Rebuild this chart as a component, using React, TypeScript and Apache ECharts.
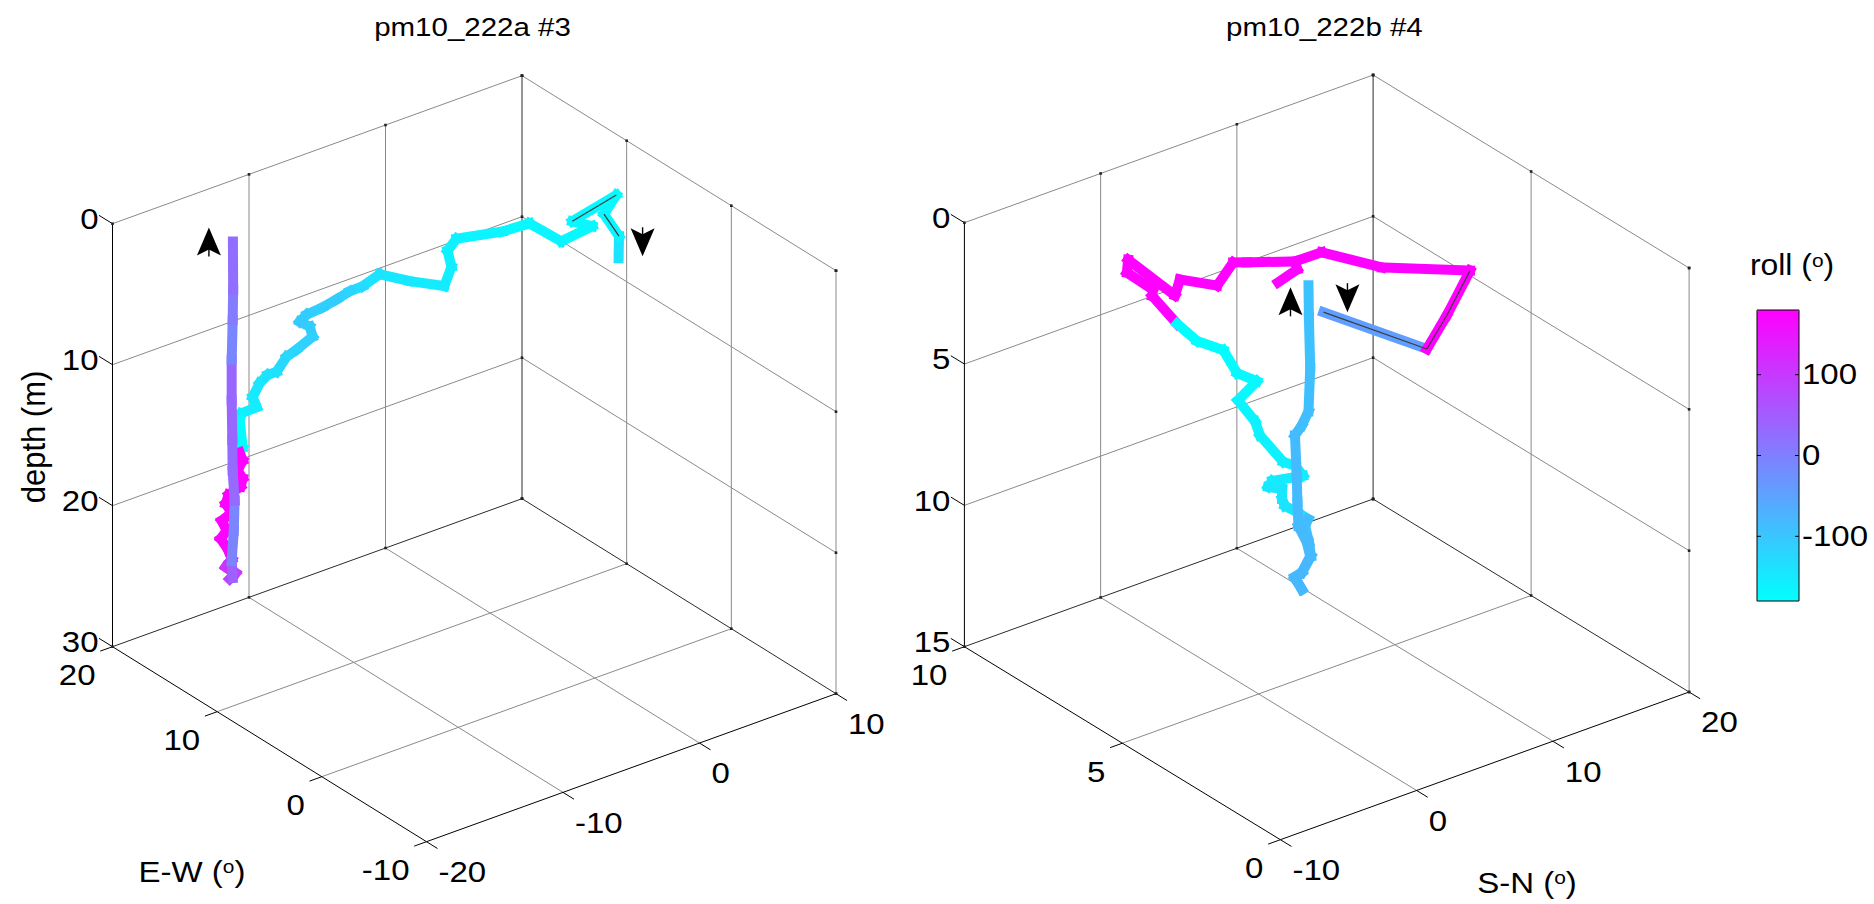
import { useEffect, useRef } from "react";
import * as echarts from "echarts";

// One sample of a float track: [E-W (º), S-N (º), depth (m), roll (º)]
type Sample = [number, number, number, number];

// ---- Profile pm10_222a #3 ----
const descent3: Sample[] = [
  [0.22, 1.91, 1.0, -140],
  [3.04, 4.1, 1.5, -165],
  [6.4, 5.58, 2.0, -168],
  [8.51, 8.1, 2.5, -170],
  [8.19, 4.63, 3.0, -168],
  [7.42, 5.5, 3.3, -170],
  [7.72, 3.46, 3.8, -165],
  [11.14, 3.75, 4.2, -168],
  [11.84, 2.31, 4.6, -165],
  [13.31, 0.07, 5.0, -162],
  [12.86, -0.93, 5.3, -160],
  [11.57, -1.63, 5.6, -156],
  [10.51, -2.97, 6.0, -152],
  [12.76, -3.79, 6.4, -148],
  [15.03, -4.24, 6.8, -140],
  [14.86, -5.61, 7.1, -130],
  [15.24, -6.28, 7.4, -118],
  [15.32, -7.16, 7.7, -110],
  [15.44, -8.1, 8.0, -114],
  [15.72, -9.05, 8.3, -110],
  [15.69, -9.59, 8.6, -105],
  [15.27, -9.18, 8.9, -108],
  [14.6, -9.48, 9.2, -115],
  [14.44, -10.78, 9.6, -120],
  [14.65, -11.35, 10.0, -125],
  [14.22, -12.41, 10.5, -135],
  [14.79, -12.63, 10.9, -140],
  [14.83, -13.18, 11.3, -145],
  [14.39, -14.03, 11.8, -150],
  [13.96, -14.07, 12.3, -155],
  [14.58, -14.69, 12.8, -160],
  [14.66, -14.78, 13.3, -175],
  [14.65, -14.57, 15.3, -178],
  [15.09, -14.45, 15.9, 178],
  [14.89, -14.38, 16.4, 178],
  [15.05, -14.63, 17.1, 175],
  [14.92, -14.36, 17.7, 178],
  [15.03, -14.42, 18.3, 176],
  [15.62, -14.84, 19.0, 178],
  [15.81, -14.92, 19.7, 175],
  [15.54, -14.69, 20.3, 178],
  [15.93, -15.12, 20.9, 176],
  [15.74, -14.9, 21.6, 178],
  [15.99, -15.15, 22.2, 175],
  [15.73, -14.84, 22.9, 170],
  [15.57, -14.66, 23.6, 160],
  [15.82, -14.91, 24.2, 110],
  [15.43, -14.48, 24.6, 90],
  [15.61, -14.78, 25.0, 80],
];

const ascent3: Sample[] = [
  [15.6, -14.57, 25.0, 45],
  [15.63, -14.62, 23.8, -5],
  [15.56, -14.52, 21.65, -8],
  [15.53, -14.48, 19.5, 32],
  [15.6, -14.57, 17.4, 28],
  [15.61, -14.59, 15.2, 36],
  [15.63, -14.62, 12.4, 35],
  [15.63, -14.62, 9.5, -10],
  [15.6, -14.57, 6.7, 5],
  [15.58, -14.55, 4.55, 25],
  [15.59, -14.56, 1.13, 25],
];

// ---- Profile pm10_222b #4 ----
const descent4: Sample[] = [
  [3.6, 1.51, 0.8, -45],
  [1.37, 3.93, 1.0, 178],
  [2.41, 7.8, 1.2, 178],
  [3.78, 12.69, 1.4, 176],
  [5.11, 9.29, 1.6, 176],
  [6.49, 8.08, 1.8, 178],
  [6.69, 6.6, 2.0, 178],
  [7.41, 4.73, 2.2, 178],
  [7.66, 4.3, 2.3, 178],
  [7.28, 2.25, 2.5, 178],
  [8.01, 1.2, 2.6, 178],
  [7.73, 0.19, 2.8, 178],
  [9.63, 1.16, 3.0, 178],
  [9.41, 0.56, 3.2, 178],
  [8.91, 1.32, 3.6, 178],
  [8.91, 1.25, 3.8, 178],
  [8.16, 1.35, 4.3, -179],
  [7.74, 1.83, 4.7, -178],
  [7.41, 2.99, 5.0, -175],
  [7.05, 3.17, 5.6, -170],
  [6.92, 4.33, 6.0, -168],
  [6.98, 3.08, 6.5, -166],
  [6.74, 3.77, 7.2, -163],
  [6.68, 4.0, 7.7, -160],
  [6.29, 4.79, 8.5, -158],
  [6.2, 5.47, 8.7, -155],
  [6.06, 5.72, 9.0, -150],
  [6.53, 4.54, 9.3, -150],
  [6.57, 4.33, 9.5, -148],
  [6.43, 5.04, 9.6, -148],
  [6.38, 4.92, 9.9, -145],
  [6.3, 4.95, 10.1, -142],
  [6.15, 5.48, 10.3, -140],
  [5.97, 5.88, 10.5, -88],
  [5.96, 5.64, 10.7, -88],
  [5.85, 5.67, 11.2, -86],
  [5.83, 5.77, 11.7, -86],
  [5.87, 5.2, 12.2, -85],
  [5.94, 4.85, 12.4, -85],
  [5.86, 5.19, 12.8, -85],
];

const drift4: Sample[] = [
  [5.84, 3.38, 1.6, 176],
  [6.22, 5.66, 1.8, 176],
  [6.69, 6.6, 2.0, 176],
];

const ascent4: Sample[] = [
  [5.77, 4.95, 12.69, -80],
  [5.85, 4.64, 12.24, -80],
  [5.77, 4.95, 12.09, -80],
  [5.67, 5.34, 11.52, -82],
  [5.71, 5.18, 11.02, -82],
  [5.81, 4.8, 10.45, -82],
  [5.82, 4.75, 9.59, -84],
  [5.83, 4.72, 8.67, -84],
  [5.85, 4.64, 7.24, -86],
  [5.77, 4.95, 6.89, -88],
  [5.69, 5.26, 6.39, -90],
  [5.67, 5.34, 4.85, -92],
  [5.69, 5.29, 3.07, -95],
  [5.69, 5.26, 1.93, -95],
];

// ---- Axis ticks ----
const ewTicks3 = [20, 10, 0, -10];
const snTicks3 = [-20, -10, 0, 10];
const depthTicks3 = [0, 10, 20, 30];
const ewTicks4 = [10, 5, 0];
const snTicks4 = [-10, 0, 10, 20];
const depthTicks4 = [0, 5, 10, 15];
const rollTicks = [100, 0, -100];
const rollMin = -180;
const rollMax = 180;

const FONT = '"Liberation Sans", Arial, Helvetica, sans-serif';
const GRID = 0;
const EDGE = 1;
const AXIS = 2;
const DOT = 3;
const TRACK_WIDTH = 10;

interface Panel {
  title: string;
  ew: number[];
  sn: number[];
  depth: number[];
  descent: Sample[];
  ascent: Sample[];
  extra: Sample[][];
  wireSegments: number[]; // descent segments that show their thin centre line
  origin: [number, number]; // screen position of the lower-left box corner
  ewVec: [number, number]; // screen vector spanning the E-W axis
  snVec: [number, number]; // screen vector spanning the S-N axis
  depthLen: number; // screen length of the depth axis
  downArrow: [number, number];
  upArrow: [number, number];
  ewName?: [number, number];
  snName?: [number, number];
  depthName?: [number, number];
}

const panels: Panel[] = [
  {
    title: "pm10_222a #3",
    ew: ewTicks3,
    sn: snTicks3,
    depth: depthTicks3,
    descent: descent3,
    ascent: ascent3,
    extra: [],
    wireSegments: [1, 3],
    origin: [112.5, 646.7],
    ewVec: [314, 195],
    snVec: [409.5, -148],
    depthLen: 423,
    downArrow: [24, -17],
    upArrow: [-24, 1],
    ewName: [79.5, 225.3],
    depthName: [-79.5, -209.7],
  },
  {
    title: "pm10_222b #4",
    ew: ewTicks4,
    sn: snTicks4,
    depth: depthTicks4,
    descent: descent4,
    ascent: ascent4,
    extra: [drift4],
    wireSegments: [0, 1, 2],
    origin: [964.4, 646.7],
    ewVec: [316, 193],
    snVec: [408.7, -147.7],
    depthLen: 424,
    downArrow: [24, -15],
    upArrow: [-18, 17],
    snName: [562.6, 236.3],
  },
];

const frac = (v: number, t: number[]) => (v - t[0]) / (t[t.length - 1] - t[0]);

// Normalised box coordinates -> view plane (u right, v up)
function uv(p: Panel, ne: number, ns: number, nz: number): [number, number] {
  return [
    ne * p.ewVec[0] + ns * p.snVec[0],
    -ne * p.ewVec[1] - ns * p.snVec[1] + nz * p.depthLen,
  ];
}
function project(p: Panel, e: number, s: number, z: number): [number, number] {
  return uv(p, frac(e, p.ew), frac(s, p.sn), 1 - frac(z, p.depth));
}
function toPx(p: Panel, q: [number, number]): [number, number] {
  return [p.origin[0] + q[0], p.origin[1] - q[1]];
}
function extent(p: Panel) {
  const uMax = p.ewVec[0] + p.snVec[0];
  const vMin = -p.ewVec[1];
  const vMax = -p.snVec[1] + p.depthLen;
  return { uMax, vMin, vMax };
}

function trackSegments(p: Panel, t: Sample[]) {
  const out: number[][] = [];
  for (let i = 0; i < t.length - 1; i++) {
    const a = project(p, t[i][0], t[i][1], t[i][2]);
    const b = project(p, t[i + 1][0], t[i + 1][1], t[i + 1][2]);
    out.push([a[0], a[1], b[0], b[1], t[i][3]]);
  }
  return out;
}

function segments(p: Panel) {
  return [p.descent, ...p.extra, p.ascent].flatMap((t) => trackSegments(p, t));
}

function boxItems(p: Panel) {
  const L: number[][] = [];
  const add = (a: number[], b: number[], k: number) => L.push([a[0], a[1], b[0], b[1], k]);
  const P = (ne: number, ns: number, nz: number) => uv(p, ne, ns, nz);
  const nsT = p.sn.map((v) => frac(v, p.sn));
  const neT = p.ew.map((v) => frac(v, p.ew));
  const nzT = p.depth.map((v) => 1 - frac(v, p.depth));
  // left wall
  nsT.forEach((ns, i) => {
    if (i > 0) add(P(0, ns, 0), P(0, ns, 1), i === nsT.length - 1 ? EDGE : GRID);
  });
  nzT.forEach((nz) => add(P(0, 0, nz), P(0, 1, nz), nz === 0 ? EDGE : GRID));
  // back wall
  neT.forEach((ne, i) => {
    if (i > 0) add(P(ne, 1, 0), P(ne, 1, 1), GRID);
  });
  nzT.forEach((nz) => add(P(0, 1, nz), P(1, 1, nz), nz === 0 ? EDGE : GRID));
  // floor
  neT.forEach((ne, i) => {
    if (i > 0 && i < neT.length - 1) add(P(ne, 0, 0), P(ne, 1, 0), GRID);
  });
  nsT.forEach((ns, i) => {
    if (i > 0 && i < nsT.length - 1) add(P(0, ns, 0), P(1, ns, 0), GRID);
  });
  // axis lines and ticks
  add(P(0, 0, 0), P(0, 0, 1), AXIS);
  add(P(0, 0, 0), P(1, 0, 0), AXIS);
  add(P(1, 0, 0), P(1, 1, 0), AXIS);
  nzT.forEach((nz) => add(P(0, 0, nz), P(-0.043, 0, nz), AXIS));
  neT.forEach((ne) => add(P(ne, 0, 0), P(ne, -0.03, 0), AXIS));
  nsT.forEach((ns) => add(P(1, ns, 0), P(1.035, ns, 0), AXIS));
  // tick stubs on the remaining box edges
  nsT.forEach((ns) => {
    add(P(0, ns, 1), P(0, ns, 1), DOT);
    add(P(0, ns, 0), P(0, ns, 0), DOT);
  });
  neT.forEach((ne) => {
    add(P(ne, 1, 1), P(ne, 1, 1), DOT);
    add(P(ne, 1, 0), P(ne, 1, 0), DOT);
  });
  nzT.forEach((nz) => {
    add(P(0, 1, nz), P(0, 1, nz), DOT);
    add(P(1, 1, nz), P(1, 1, nz), DOT);
  });
  return L.sort((a, b) => a[4] - b[4]);
}

function text(
  x: number,
  y: number,
  str: string,
  size: number,
  align: string,
  extra: Record<string, unknown> = {},
  rich?: Record<string, unknown>
) {
  return {
    type: "text",
    x,
    y,
    scaleX: 1.1,
    silent: true,
    ...extra,
    style: {
      text: str,
      fontSize: size,
      fontFamily: FONT,
      fill: "#000",
      align,
      verticalAlign: "middle",
      textAlign: align,
      textVerticalAlign: "middle",
      rich,
    },
  };
}

const supRich = (size: number) => ({
  t: { fontSize: size, fontFamily: FONT, fill: "#000" },
  o: { fontSize: Math.round(size * 0.64), fontFamily: FONT, fill: "#000", verticalAlign: "top" },
});

function arrow(cx: number, cy: number, up: boolean) {
  const sgn = up ? 1 : -1;
  const head = [
    [0, -15],
    [12, 13],
    [0, 7],
    [-12, 13],
  ].map(([x, y]) => [cx + x, cy + sgn * y]);
  return [
    { type: "polygon", silent: true, z: 20, shape: { points: head }, style: { fill: "#000" } },
    {
      type: "line",
      silent: true,
      z: 20,
      shape: { x1: cx, y1: cy - sgn * 6, x2: cx, y2: cy + sgn * 14 },
      style: { stroke: "#000", lineWidth: 1.4 },
    },
  ];
}

function lineRenderer(width: number, fixedColor?: string, cap = "square") {
  return (_: any, api: any) => {
    const a = api.coord([api.value(0), api.value(1)]);
    const b = api.coord([api.value(2), api.value(3)]);
    return {
      type: "line",
      shape: { x1: a[0], y1: a[1], x2: b[0], y2: b[1] },
      style: { stroke: fixedColor || api.visual("color"), lineWidth: width, lineCap: cap },
    };
  };
}

export default function App() {
  const ref = useRef<HTMLDivElement>(null);

  useEffect(() => {
    if (!ref.current) return;
    const chart = echarts.init(ref.current, null, { renderer: "svg" });

    const grids: any[] = [];
    const xAxes: any[] = [];
    const yAxes: any[] = [];
    const boxSeries: any[] = [];
    const trackSeries: any[] = [];
    const wireSeries: any[] = [];
    const graphics: any[] = [];

    panels.forEach((p, i) => {
      const { uMax, vMin, vMax } = extent(p);
      grids.push({
        left: p.origin[0],
        top: p.origin[1] - vMax,
        width: uMax,
        height: vMax - vMin,
        containLabel: false,
      });
      xAxes.push({ type: "value", gridIndex: i, min: 0, max: uMax, show: false });
      yAxes.push({ type: "value", gridIndex: i, min: vMin, max: vMax, show: false });

      const common = {
        type: "custom",
        coordinateSystem: "cartesian2d",
        xAxisIndex: i,
        yAxisIndex: i,
        silent: true,
        clip: false,
        encode: { x: [0, 2], y: [1, 3] },
      };

      boxSeries.push({
        ...common,
        z: 1,
        data: boxItems(p),
        renderItem: (_: any, api: any) => {
          const a = api.coord([api.value(0), api.value(1)]);
          const b = api.coord([api.value(2), api.value(3)]);
          const k = api.value(4);
          if (k === DOT) {
            return {
              type: "rect",
              shape: { x: a[0] - 1.3, y: a[1] - 1.3, width: 2.6, height: 2.6 },
              style: { fill: "#222" },
            };
          }
          return {
            type: "line",
            shape: { x1: a[0], y1: a[1], x2: b[0], y2: b[1] },
            style: {
              stroke: k === GRID ? "#8a8a8a" : k === EDGE ? "#2a2a2a" : "#000",
              lineWidth: 1,
            },
          };
        },
      });

      trackSeries.push({
        ...common,
        z: 3,
        dimensions: ["u1", "v1", "u2", "v2", "roll"],
        data: segments(p),
        renderItem: lineRenderer(TRACK_WIDTH),
      });

      const descSegs = trackSegments(p, p.descent);
      wireSeries.push({
        ...common,
        z: 4,
        data: p.wireSegments.map((k) => descSegs[k]),
        renderItem: lineRenderer(1.2, "#3c3c3c", "butt"),
      });

      // title
      graphics.push(text(p.origin[0] + 360, 27, p.title, 25, "center", { scaleX: 1.18 }));

      // tick labels
      p.depth.forEach((d) => {
        const [x, y] = toPx(p, project(p, p.ew[0], p.sn[0], d));
        graphics.push(text(x - 14, y - 5, String(d), 30, "right"));
      });
      p.ew.forEach((e) => {
        const [x, y] = toPx(p, project(p, e, p.sn[0], p.depth[p.depth.length - 1]));
        graphics.push(text(x - 17, y + 28, String(e), 30, "right"));
      });
      p.sn.forEach((s) => {
        const [x, y] = toPx(p, project(p, p.ew[p.ew.length - 1], s, p.depth[p.depth.length - 1]));
        graphics.push(text(x + 12, y + 30, String(s), 30, "left"));
      });

      // axis names
      if (p.ewName) {
        graphics.push(
          text(p.origin[0] + p.ewName[0], p.origin[1] + p.ewName[1], "{t|E-W (}{o|o}{t|)}", 30, "center", {}, supRich(30))
        );
      }
      if (p.snName) {
        graphics.push(
          text(p.origin[0] + p.snName[0], p.origin[1] + p.snName[1], "{t|S-N (}{o|o}{t|)}", 30, "center", {}, supRich(30))
        );
      }
      if (p.depthName) {
        graphics.push(
          text(p.origin[0] + p.depthName[0], p.origin[1] + p.depthName[1], "depth (m)", 31, "center", {
            rotation: Math.PI / 2,
            scaleX: 1,
            scaleY: 1.1,
          })
        );
      }

      // direction arrows at the start of the descent and the end of the ascent
      const d0 = p.descent[0];
      const [dx, dy] = toPx(p, project(p, d0[0], d0[1], d0[2]));
      graphics.push(...arrow(dx + p.downArrow[0], dy + p.downArrow[1], false));
      const a1 = p.ascent[p.ascent.length - 1];
      const [ax, ay] = toPx(p, project(p, a1[0], a1[1], a1[2]));
      graphics.push(...arrow(ax + p.upArrow[0], ay + p.upArrow[1], true));
    });

    // colour bar frame, ticks and labels
    const cb = { left: 1757, top: 310, width: 42, height: 291 };
    const cbY = (v: number) => cb.top + ((rollMax - v) / (rollMax - rollMin)) * cb.height;
    graphics.push({
      type: "rect",
      silent: true,
      z: 10,
      shape: { x: cb.left, y: cb.top, width: cb.width, height: cb.height },
      style: { fill: "none", stroke: "#000", lineWidth: 1 },
    });
    rollTicks.forEach((t) => {
      const y = cbY(t);
      graphics.push(
        {
          type: "line",
          silent: true,
          z: 10,
          shape: { x1: cb.left, y1: y, x2: cb.left + 4, y2: y },
          style: { stroke: "#000", lineWidth: 1 },
        },
        {
          type: "line",
          silent: true,
          z: 10,
          shape: { x1: cb.left + cb.width - 4, y1: y, x2: cb.left + cb.width, y2: y },
          style: { stroke: "#000", lineWidth: 1 },
        },
        text(cb.left + cb.width + 3, y - 1, String(t), 30, "left")
      );
    });
    graphics.push(text(cb.left + 35, cb.top - 45, "{t|roll (}{o|o}{t|)}", 29, "center", {}, supRich(29)));

    chart.setOption({
      animation: false,
      backgroundColor: "#fff",
      grid: grids,
      xAxis: xAxes,
      yAxis: yAxes,
      visualMap: {
        type: "continuous",
        min: rollMin,
        max: rollMax,
        dimension: 4,
        seriesIndex: [2, 3],
        calculable: false,
        hoverLink: false,
        orient: "vertical",
        left: cb.left,
        top: cb.top,
        itemWidth: cb.width,
        itemHeight: cb.height,
        padding: 0,
        text: undefined,
        inRange: { color: ["#00ffff", "#ff00ff"] },
      },
      series: [...boxSeries, ...trackSeries, ...wireSeries],
      graphic: graphics,
    });

    return () => chart.dispose();
  }, []);

  return (
    <div
      ref={ref}
      style={{ position: "absolute", left: 0, top: 0, width: 1874, height: 904, background: "#fff" }}
    />
  );
}
